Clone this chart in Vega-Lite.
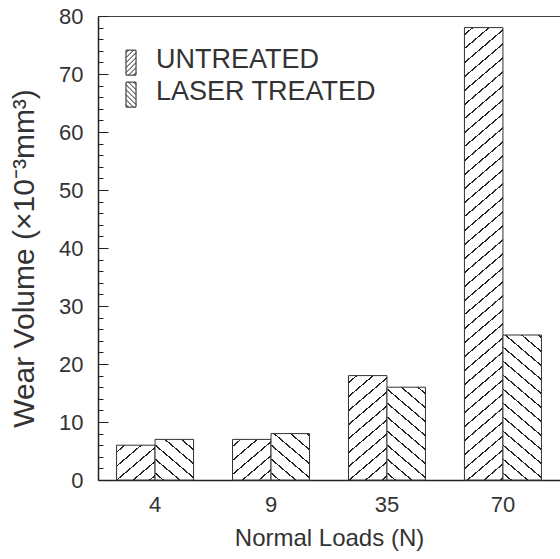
{
"$schema":"https://vega.github.io/schema/vega-lite/v6.json",
"autosize":{"type":"none"},
"padding":{"left":98,"top":16,"right":0,"bottom":79},
"width":462,"height":464,
"config":{"view":{"stroke":null},"font":"Liberation Sans"},
"data":{"values":[
{"load":"4","type":"UNTREATED","volume":6},
{"load":"4","type":"LASER TREATED","volume":7},
{"load":"9","type":"UNTREATED","volume":7},
{"load":"9","type":"LASER TREATED","volume":8},
{"load":"35","type":"UNTREATED","volume":18},
{"load":"35","type":"LASER TREATED","volume":16},
{"load":"70","type":"UNTREATED","volume":78},
{"load":"70","type":"LASER TREATED","volume":25}
]},
"layer":[
{
"mark":{"type":"bar","stroke":"#333","strokeWidth":1},
"encoding":{
"x":{"field":"load","type":"ordinal","sort":["4","9","35","70"],
 "scale":{"paddingInner":0.336,"paddingOuter":0.16},
 "axis":{"orient":"bottom","ticks":false,"domainColor":"#222","domainWidth":1.5,"labelAngle":0,"labelFontSize":22,"labelColor":"#333","labelPadding":14,"title":"Normal Loads (N)","titleFontSize":24,"titleFontWeight":"normal","titleColor":"#333","titlePadding":11}},
"xOffset":{"field":"type","type":"nominal","sort":["UNTREATED","LASER TREATED"]},
"y":{"field":"volume","type":"quantitative","scale":{"domain":[0,80],"nice":false},
 "axis":{"orient":"left","values":[0,2,4,6,8,10,12,14,16,18,20,22,24,26,28,30,32,34,36,38,40,42,44,46,48,50,52,54,56,58,60,62,64,66,68,70,72,74,76,78,80],
  "tickSize":{"condition":{"test":"datum.value % 10 === 0","value":-10},"value":-5},
  "labelExpr":"datum.value % 10 === 0 ? datum.label : ''",
  "grid":true,"gridColor":"#444","gridWidth":1,
  "gridOpacity":{"condition":{"test":"datum.value === 80","value":1},"value":0},
  "tickColor":"#222","tickWidth":1,"domainColor":"#222","domainWidth":1.5,"labelFontSize":22,"labelColor":"#333","labelPadding":25,"title":"Wear Volume (×10⁻³mm³)","titleFontSize":30,"titleFontWeight":"normal","titleColor":"#333","titlePadding":19,"titleY":242}},
"fill":{"condition":[
{"test":"datum.load==='4' && datum.type==='UNTREATED'","value":{"gradient":"linear","x1":0,"y1":0,"x2":0.9684,"y2":1.0298,"stops":[
{"offset":0.0918,"color":"#fff"},{"offset":0.0918,"color":"#222"},{"offset":0.1155,"color":"#222"},{"offset":0.1155,"color":"#fff"},
{"offset":0.2991,"color":"#fff"},{"offset":0.2991,"color":"#222"},{"offset":0.3228,"color":"#222"},{"offset":0.3228,"color":"#fff"},
{"offset":0.5065,"color":"#fff"},{"offset":0.5065,"color":"#222"},{"offset":0.5302,"color":"#222"},{"offset":0.5302,"color":"#fff"},
{"offset":0.7138,"color":"#fff"},{"offset":0.7138,"color":"#222"},{"offset":0.7375,"color":"#222"},{"offset":0.7375,"color":"#fff"},
{"offset":0.9211,"color":"#fff"},{"offset":0.9211,"color":"#222"},{"offset":0.9448,"color":"#222"},{"offset":0.9448,"color":"#fff"}]}},
{"test":"datum.load==='9' && datum.type==='UNTREATED'","value":{"gradient":"linear","x1":0,"y1":0,"x2":0.8824,"y2":1.0948,"stops":[
{"offset":0.0846,"color":"#fff"},{"offset":0.0846,"color":"#222"},{"offset":0.1064,"color":"#222"},{"offset":0.1064,"color":"#fff"},
{"offset":0.2755,"color":"#fff"},{"offset":0.2755,"color":"#222"},{"offset":0.2973,"color":"#222"},{"offset":0.2973,"color":"#fff"},
{"offset":0.4664,"color":"#fff"},{"offset":0.4664,"color":"#222"},{"offset":0.4882,"color":"#222"},{"offset":0.4882,"color":"#fff"},
{"offset":0.6574,"color":"#fff"},{"offset":0.6574,"color":"#222"},{"offset":0.6792,"color":"#222"},{"offset":0.6792,"color":"#fff"},
{"offset":0.8483,"color":"#fff"},{"offset":0.8483,"color":"#222"},{"offset":0.8701,"color":"#222"},{"offset":0.8701,"color":"#fff"}]}},
{"test":"datum.load==='35' && datum.type==='UNTREATED'","value":{"gradient":"linear","x1":0,"y1":0,"x2":0.3749,"y2":1.1959,"stops":[
{"offset":0.0452,"color":"#fff"},{"offset":0.0452,"color":"#222"},{"offset":0.0569,"color":"#222"},{"offset":0.0569,"color":"#fff"},
{"offset":0.1473,"color":"#fff"},{"offset":0.1473,"color":"#222"},{"offset":0.1590,"color":"#222"},{"offset":0.1590,"color":"#fff"},
{"offset":0.2494,"color":"#fff"},{"offset":0.2494,"color":"#222"},{"offset":0.2611,"color":"#222"},{"offset":0.2611,"color":"#fff"},
{"offset":0.3515,"color":"#fff"},{"offset":0.3515,"color":"#222"},{"offset":0.3632,"color":"#222"},{"offset":0.3632,"color":"#fff"},
{"offset":0.4536,"color":"#fff"},{"offset":0.4536,"color":"#222"},{"offset":0.4653,"color":"#222"},{"offset":0.4653,"color":"#fff"},
{"offset":0.5557,"color":"#fff"},{"offset":0.5557,"color":"#222"},{"offset":0.5674,"color":"#222"},{"offset":0.5674,"color":"#fff"},
{"offset":0.6578,"color":"#fff"},{"offset":0.6578,"color":"#222"},{"offset":0.6695,"color":"#222"},{"offset":0.6695,"color":"#fff"},
{"offset":0.7599,"color":"#fff"},{"offset":0.7599,"color":"#222"},{"offset":0.7716,"color":"#222"},{"offset":0.7716,"color":"#fff"},
{"offset":0.8620,"color":"#fff"},{"offset":0.8620,"color":"#222"},{"offset":0.8737,"color":"#222"},{"offset":0.8737,"color":"#fff"},
{"offset":0.9641,"color":"#fff"},{"offset":0.9641,"color":"#222"},{"offset":0.9758,"color":"#222"},{"offset":0.9758,"color":"#fff"}]}},
{"test":"datum.load==='70' && datum.type==='UNTREATED'","value":{"gradient":"linear","x1":0,"y1":0,"x2":0.0772,"y2":1.0668,"stops":[
{"offset":0.0128,"color":"#fff"},{"offset":0.0128,"color":"#222"},{"offset":0.0161,"color":"#222"},{"offset":0.0161,"color":"#fff"},
{"offset":0.0416,"color":"#fff"},{"offset":0.0416,"color":"#222"},{"offset":0.0449,"color":"#222"},{"offset":0.0449,"color":"#fff"},
{"offset":0.0705,"color":"#fff"},{"offset":0.0705,"color":"#222"},{"offset":0.0738,"color":"#222"},{"offset":0.0738,"color":"#fff"},
{"offset":0.0994,"color":"#fff"},{"offset":0.0994,"color":"#222"},{"offset":0.1027,"color":"#222"},{"offset":0.1027,"color":"#fff"},
{"offset":0.1282,"color":"#fff"},{"offset":0.1282,"color":"#222"},{"offset":0.1315,"color":"#222"},{"offset":0.1315,"color":"#fff"},
{"offset":0.1571,"color":"#fff"},{"offset":0.1571,"color":"#222"},{"offset":0.1604,"color":"#222"},{"offset":0.1604,"color":"#fff"},
{"offset":0.1859,"color":"#fff"},{"offset":0.1859,"color":"#222"},{"offset":0.1892,"color":"#222"},{"offset":0.1892,"color":"#fff"},
{"offset":0.2148,"color":"#fff"},{"offset":0.2148,"color":"#222"},{"offset":0.2181,"color":"#222"},{"offset":0.2181,"color":"#fff"},
{"offset":0.2436,"color":"#fff"},{"offset":0.2436,"color":"#222"},{"offset":0.2469,"color":"#222"},{"offset":0.2469,"color":"#fff"},
{"offset":0.2725,"color":"#fff"},{"offset":0.2725,"color":"#222"},{"offset":0.2758,"color":"#222"},{"offset":0.2758,"color":"#fff"},
{"offset":0.3014,"color":"#fff"},{"offset":0.3014,"color":"#222"},{"offset":0.3047,"color":"#222"},{"offset":0.3047,"color":"#fff"},
{"offset":0.3302,"color":"#fff"},{"offset":0.3302,"color":"#222"},{"offset":0.3335,"color":"#222"},{"offset":0.3335,"color":"#fff"},
{"offset":0.3591,"color":"#fff"},{"offset":0.3591,"color":"#222"},{"offset":0.3624,"color":"#222"},{"offset":0.3624,"color":"#fff"},
{"offset":0.3879,"color":"#fff"},{"offset":0.3879,"color":"#222"},{"offset":0.3912,"color":"#222"},{"offset":0.3912,"color":"#fff"},
{"offset":0.4168,"color":"#fff"},{"offset":0.4168,"color":"#222"},{"offset":0.4201,"color":"#222"},{"offset":0.4201,"color":"#fff"},
{"offset":0.4457,"color":"#fff"},{"offset":0.4457,"color":"#222"},{"offset":0.4490,"color":"#222"},{"offset":0.4490,"color":"#fff"},
{"offset":0.4745,"color":"#fff"},{"offset":0.4745,"color":"#222"},{"offset":0.4778,"color":"#222"},{"offset":0.4778,"color":"#fff"},
{"offset":0.5034,"color":"#fff"},{"offset":0.5034,"color":"#222"},{"offset":0.5067,"color":"#222"},{"offset":0.5067,"color":"#fff"},
{"offset":0.5322,"color":"#fff"},{"offset":0.5322,"color":"#222"},{"offset":0.5355,"color":"#222"},{"offset":0.5355,"color":"#fff"},
{"offset":0.5611,"color":"#fff"},{"offset":0.5611,"color":"#222"},{"offset":0.5644,"color":"#222"},{"offset":0.5644,"color":"#fff"},
{"offset":0.5899,"color":"#fff"},{"offset":0.5899,"color":"#222"},{"offset":0.5932,"color":"#222"},{"offset":0.5932,"color":"#fff"},
{"offset":0.6188,"color":"#fff"},{"offset":0.6188,"color":"#222"},{"offset":0.6221,"color":"#222"},{"offset":0.6221,"color":"#fff"},
{"offset":0.6477,"color":"#fff"},{"offset":0.6477,"color":"#222"},{"offset":0.6510,"color":"#222"},{"offset":0.6510,"color":"#fff"},
{"offset":0.6765,"color":"#fff"},{"offset":0.6765,"color":"#222"},{"offset":0.6798,"color":"#222"},{"offset":0.6798,"color":"#fff"},
{"offset":0.7054,"color":"#fff"},{"offset":0.7054,"color":"#222"},{"offset":0.7087,"color":"#222"},{"offset":0.7087,"color":"#fff"},
{"offset":0.7342,"color":"#fff"},{"offset":0.7342,"color":"#222"},{"offset":0.7375,"color":"#222"},{"offset":0.7375,"color":"#fff"},
{"offset":0.7631,"color":"#fff"},{"offset":0.7631,"color":"#222"},{"offset":0.7664,"color":"#222"},{"offset":0.7664,"color":"#fff"},
{"offset":0.7920,"color":"#fff"},{"offset":0.7920,"color":"#222"},{"offset":0.7953,"color":"#222"},{"offset":0.7953,"color":"#fff"},
{"offset":0.8208,"color":"#fff"},{"offset":0.8208,"color":"#222"},{"offset":0.8241,"color":"#222"},{"offset":0.8241,"color":"#fff"},
{"offset":0.8497,"color":"#fff"},{"offset":0.8497,"color":"#222"},{"offset":0.8530,"color":"#222"},{"offset":0.8530,"color":"#fff"},
{"offset":0.8785,"color":"#fff"},{"offset":0.8785,"color":"#222"},{"offset":0.8818,"color":"#222"},{"offset":0.8818,"color":"#fff"},
{"offset":0.9074,"color":"#fff"},{"offset":0.9074,"color":"#222"},{"offset":0.9107,"color":"#222"},{"offset":0.9107,"color":"#fff"},
{"offset":0.9362,"color":"#fff"},{"offset":0.9362,"color":"#222"},{"offset":0.9395,"color":"#222"},{"offset":0.9395,"color":"#fff"},
{"offset":0.9651,"color":"#fff"},{"offset":0.9651,"color":"#222"},{"offset":0.9684,"color":"#222"},{"offset":0.9684,"color":"#fff"},
{"offset":0.9940,"color":"#fff"},{"offset":0.9940,"color":"#222"},{"offset":0.9973,"color":"#222"},{"offset":0.9973,"color":"#fff"}]}},
{"test":"datum.load==='4' && datum.type==='LASER TREATED'","value":{"gradient":"linear","x1":0,"y1":1,"x2":0.8824,"y2":-0.0948,"stops":[
{"offset":0.0846,"color":"#fff"},{"offset":0.0846,"color":"#222"},{"offset":0.1064,"color":"#222"},{"offset":0.1064,"color":"#fff"},
{"offset":0.2755,"color":"#fff"},{"offset":0.2755,"color":"#222"},{"offset":0.2973,"color":"#222"},{"offset":0.2973,"color":"#fff"},
{"offset":0.4664,"color":"#fff"},{"offset":0.4664,"color":"#222"},{"offset":0.4882,"color":"#222"},{"offset":0.4882,"color":"#fff"},
{"offset":0.6574,"color":"#fff"},{"offset":0.6574,"color":"#222"},{"offset":0.6792,"color":"#222"},{"offset":0.6792,"color":"#fff"},
{"offset":0.8483,"color":"#fff"},{"offset":0.8483,"color":"#222"},{"offset":0.8701,"color":"#222"},{"offset":0.8701,"color":"#fff"}]}},
{"test":"datum.load==='9' && datum.type==='LASER TREATED'","value":{"gradient":"linear","x1":0,"y1":1,"x2":0.8032,"y2":-0.1388,"stops":[
{"offset":0.0784,"color":"#fff"},{"offset":0.0784,"color":"#222"},{"offset":0.0986,"color":"#222"},{"offset":0.0986,"color":"#fff"},
{"offset":0.2553,"color":"#fff"},{"offset":0.2553,"color":"#222"},{"offset":0.2755,"color":"#222"},{"offset":0.2755,"color":"#fff"},
{"offset":0.4322,"color":"#fff"},{"offset":0.4322,"color":"#222"},{"offset":0.4524,"color":"#222"},{"offset":0.4524,"color":"#fff"},
{"offset":0.6092,"color":"#fff"},{"offset":0.6092,"color":"#222"},{"offset":0.6294,"color":"#222"},{"offset":0.6294,"color":"#fff"},
{"offset":0.7861,"color":"#fff"},{"offset":0.7861,"color":"#222"},{"offset":0.8063,"color":"#222"},{"offset":0.8063,"color":"#fff"},
{"offset":0.9631,"color":"#fff"},{"offset":0.9631,"color":"#222"},{"offset":0.9833,"color":"#222"},{"offset":0.9833,"color":"#fff"}]}},
{"test":"datum.load==='35' && datum.type==='LASER TREATED'","value":{"gradient":"linear","x1":0,"y1":1,"x2":0.4242,"y2":-0.2031,"stops":[
{"offset":0.0494,"color":"#fff"},{"offset":0.0494,"color":"#222"},{"offset":0.0621,"color":"#222"},{"offset":0.0621,"color":"#fff"},
{"offset":0.1609,"color":"#fff"},{"offset":0.1609,"color":"#222"},{"offset":0.1737,"color":"#222"},{"offset":0.1737,"color":"#fff"},
{"offset":0.2725,"color":"#fff"},{"offset":0.2725,"color":"#222"},{"offset":0.2852,"color":"#222"},{"offset":0.2852,"color":"#fff"},
{"offset":0.3840,"color":"#fff"},{"offset":0.3840,"color":"#222"},{"offset":0.3967,"color":"#222"},{"offset":0.3967,"color":"#fff"},
{"offset":0.4955,"color":"#fff"},{"offset":0.4955,"color":"#222"},{"offset":0.5083,"color":"#222"},{"offset":0.5083,"color":"#fff"},
{"offset":0.6071,"color":"#fff"},{"offset":0.6071,"color":"#222"},{"offset":0.6198,"color":"#222"},{"offset":0.6198,"color":"#fff"},
{"offset":0.7186,"color":"#fff"},{"offset":0.7186,"color":"#222"},{"offset":0.7313,"color":"#222"},{"offset":0.7313,"color":"#fff"},
{"offset":0.8301,"color":"#fff"},{"offset":0.8301,"color":"#222"},{"offset":0.8428,"color":"#222"},{"offset":0.8428,"color":"#fff"},
{"offset":0.9416,"color":"#fff"},{"offset":0.9416,"color":"#222"},{"offset":0.9544,"color":"#222"},{"offset":0.9544,"color":"#fff"}]}},
{"test":"datum.load==='70' && datum.type==='LASER TREATED'","value":{"gradient":"linear","x1":0,"y1":1,"x2":0.2632,"y2":-0.1663,"stops":[
{"offset":0.0349,"color":"#fff"},{"offset":0.0349,"color":"#222"},{"offset":0.0439,"color":"#222"},{"offset":0.0439,"color":"#fff"},
{"offset":0.1137,"color":"#fff"},{"offset":0.1137,"color":"#222"},{"offset":0.1227,"color":"#222"},{"offset":0.1227,"color":"#fff"},
{"offset":0.1924,"color":"#fff"},{"offset":0.1924,"color":"#222"},{"offset":0.2014,"color":"#222"},{"offset":0.2014,"color":"#fff"},
{"offset":0.2712,"color":"#fff"},{"offset":0.2712,"color":"#222"},{"offset":0.2802,"color":"#222"},{"offset":0.2802,"color":"#fff"},
{"offset":0.3500,"color":"#fff"},{"offset":0.3500,"color":"#222"},{"offset":0.3590,"color":"#222"},{"offset":0.3590,"color":"#fff"},
{"offset":0.4288,"color":"#fff"},{"offset":0.4288,"color":"#222"},{"offset":0.4378,"color":"#222"},{"offset":0.4378,"color":"#fff"},
{"offset":0.5075,"color":"#fff"},{"offset":0.5075,"color":"#222"},{"offset":0.5165,"color":"#222"},{"offset":0.5165,"color":"#fff"},
{"offset":0.5863,"color":"#fff"},{"offset":0.5863,"color":"#222"},{"offset":0.5953,"color":"#222"},{"offset":0.5953,"color":"#fff"},
{"offset":0.6651,"color":"#fff"},{"offset":0.6651,"color":"#222"},{"offset":0.6741,"color":"#222"},{"offset":0.6741,"color":"#fff"},
{"offset":0.7439,"color":"#fff"},{"offset":0.7439,"color":"#222"},{"offset":0.7529,"color":"#222"},{"offset":0.7529,"color":"#fff"},
{"offset":0.8226,"color":"#fff"},{"offset":0.8226,"color":"#222"},{"offset":0.8316,"color":"#222"},{"offset":0.8316,"color":"#fff"},
{"offset":0.9014,"color":"#fff"},{"offset":0.9014,"color":"#222"},{"offset":0.9104,"color":"#222"},{"offset":0.9104,"color":"#fff"},
{"offset":0.9802,"color":"#fff"},{"offset":0.9802,"color":"#222"},{"offset":0.9892,"color":"#222"},{"offset":0.9892,"color":"#fff"}]}}
],"value":"white"}
}
},
{
"mark":{"type":"point","color":"#222","opacity":0},
"encoding":{
"shape":{"field":"type","type":"nominal","sort":["UNTREATED","LASER TREATED"],
 "scale":{"domain":["UNTREATED","LASER TREATED"],"range":[
 "M-0.4,-0.75L0.4,-0.75L0.4,1.25L-0.4,1.25Z M-0.4,-0.55L-0.2,-0.75 M-0.4,-0.15L0.2,-0.75 M-0.4,0.25L0.4,-0.55 M-0.4,0.65L0.4,-0.15 M-0.4,1.05L0.4,0.25 M-0.2,1.25L0.4,0.65 M0.2,1.25L0.4,1.05",
 "M-0.4,-0.75L0.4,-0.75L0.4,1.25L-0.4,1.25Z M-0.4,1.05L-0.2,1.25 M-0.4,0.65L0.2,1.25 M-0.4,0.25L0.4,1.05 M-0.4,-0.15L0.4,0.65 M-0.4,-0.55L0.4,0.25 M-0.2,-0.75L0.4,-0.15 M0.2,-0.75L0.4,-0.55"]},
 "legend":{"orient":"none","legendX":19.5,"legendY":30,"title":null,"padding":0,"symbolSize":625,"symbolStrokeWidth":1,"labelOffset":11.5,"labelFontSize":27,"labelColor":"#333","labelLimit":400,"rowPadding":-7.5}}
}
}
]
}
